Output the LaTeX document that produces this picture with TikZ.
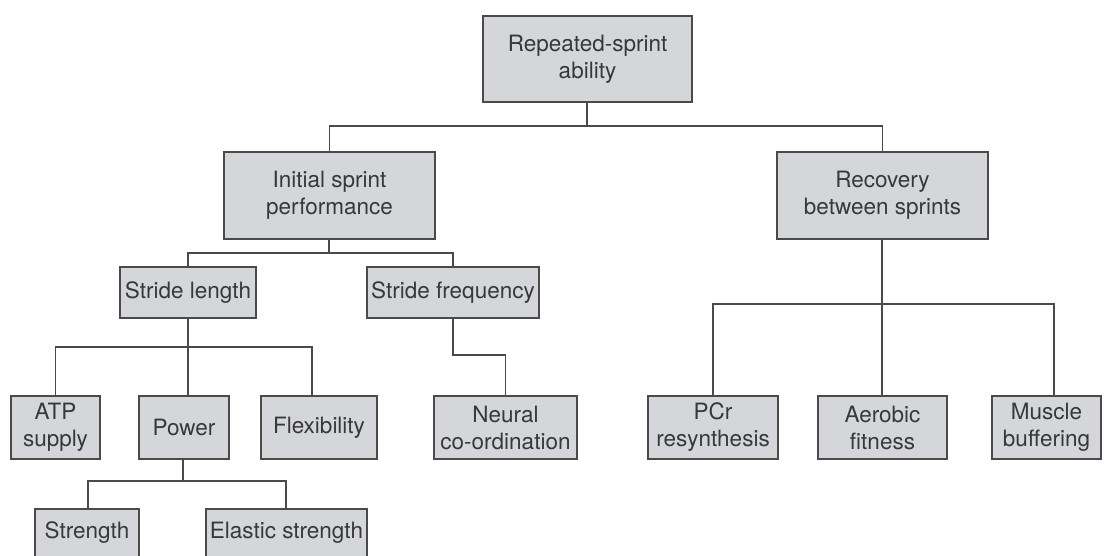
\documentclass[tikz,border=0pt]{standalone}
\usepackage{fontspec}
\setmainfont{TeX Gyre Heros}
\definecolor{boxfill}{HTML}{D4D6DA}
\definecolor{boxline}{HTML}{4A4A4A}
\definecolor{txt}{HTML}{383838}
\begin{document}
\begin{tikzpicture}[x=1pt,y=-1pt,
  box/.style={draw=boxline,fill=boxfill,line width=1.6pt,inner sep=0pt,
    align=center,text=txt,font=\fontsize{22.5}{27}\selectfont},
  link/.style={draw=boxline,line width=1.6pt}]
\useasboundingbox (0,0) rectangle (1104,556);
\clip (0,0) rectangle (1104,556);
\node[box,minimum width=209pt,minimum height=86pt] (top) at (587.5,59) {Repeated-sprint\\ability};
\node[box,minimum width=211pt,minimum height=87pt] (init) at (329.5,195.5) {Initial sprint\\performance};
\node[box,minimum width=211pt,minimum height=87pt] (rec) at (882.5,195.5) {Recovery\\between sprints};
\node[box,minimum width=136pt,minimum height=51pt] (sl) at (188,292.5) {Stride length};
\node[box,minimum width=172pt,minimum height=51pt] (sf) at (453,292.5) {Stride frequency};
\node[box,minimum width=89pt,minimum height=63pt] (atp) at (55.5,427.5) {ATP\\supply};
\node[box,minimum width=90pt,minimum height=63pt] (pow) at (184,427.5) {Power};
\node[box,minimum width=116pt,minimum height=63pt] (flex) at (319,427.5) {Flexibility};
\node[box,minimum width=143pt,minimum height=63pt] (neu) at (505.5,427.5) {Neural\\co-ordination};
\node[box,minimum width=130pt,minimum height=63pt] (pcr) at (713,427.5) {PCr\\resynthesis};
\node[box,minimum width=129pt,minimum height=63pt] (aer) at (882.5,427.5) {Aerobic\\fitness};
\node[box,minimum width=109pt,minimum height=63pt] (mus) at (1046.5,427.5) {Muscle\\buffering};
\node[box,minimum width=104pt,minimum height=48pt] (str) at (87,533) {Strength};
\node[box,minimum width=161pt,minimum height=48pt] (ela) at (286.5,533) {Elastic strength};
% level 1
\coordinate (b1) at (587,126);
\draw[link] (top.south -| b1) -- (b1);
\draw[link] (init.north) |- (b1) -| (rec.north);
% level 2 left
\coordinate (b2) at (329,253);
\draw[link] (init.south -| b2) -- (b2);
\draw[link] (sl.north) |- (b2) -| (sf.north);
% stride length children
\coordinate (b3) at (188,347);
\draw[link] (sl.south -| b3) -- (b3);
\draw[link] (atp.north) |- (b3);
\draw[link] (b3) -- (pow.north -| b3);
\draw[link] (b3) -| ([xshift=-7pt]flex.north);
% stride frequency child
\coordinate (b4) at (453,355);
\draw[link] (sf.south) -- (b4) -| (neu.north);
% power children
\coordinate (b5) at (183,481);
\draw[link] (pow.south -| b5) -- (b5);
\draw[link] ([xshift=1pt]str.north) |- (b5) -| ([xshift=-0.5pt]ela.north);
% recovery children
\coordinate (b6) at (882,304);
\draw[link] (rec.south -| b6) -- (b6);
\draw[link] (pcr.north) |- (b6) -| ([xshift=7.5pt]mus.north);
\draw[link] (b6) -- (aer.north -| b6);
\end{tikzpicture}
\end{document}
